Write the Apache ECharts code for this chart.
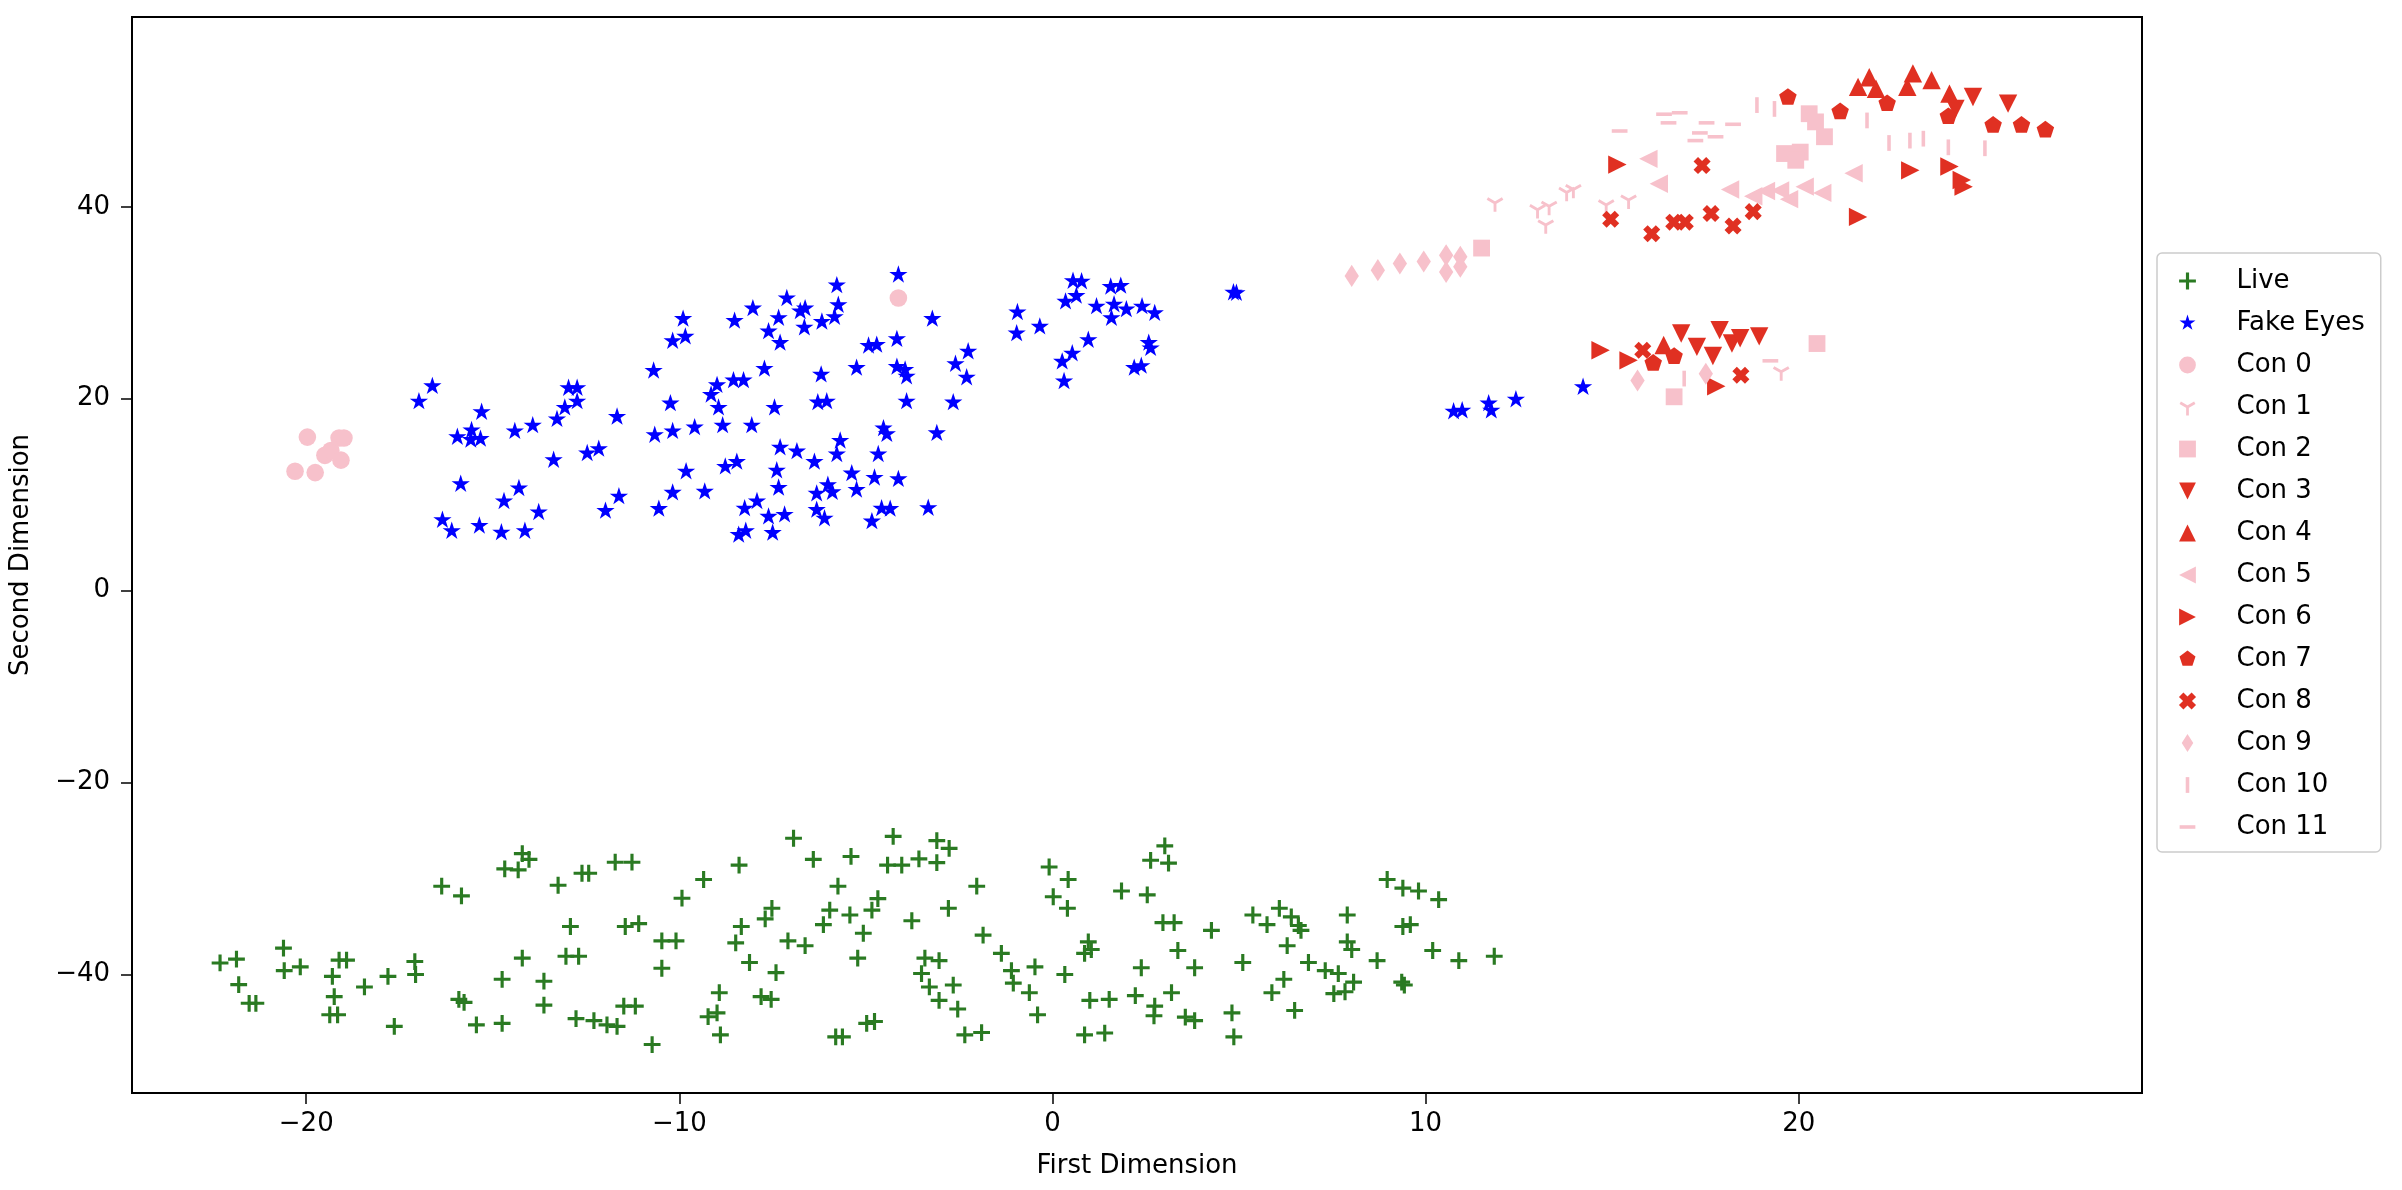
<!DOCTYPE html>
<html>
<head>
<meta charset="utf-8">
<script src="https://cdn.jsdelivr.net/npm/echarts@6/dist/echarts.min.js"></script>
<style>
html,body{margin:0;padding:0;background:#fff;}
#chart{width:2402px;height:1190px;}
</style>
</head>
<body>
<div id="chart"></div>
<script>
// ---------- data ----------
const xTicks = [-20, -10, 0, 10, 20];
const yTicks = [-40, -20, 0, 20, 40];
const seriesNames = ['Live','Fake Eyes','Con 0','Con 1','Con 2','Con 3','Con 4','Con 5','Con 6','Con 7','Con 8','Con 9','Con 10','Con 11'];

const live = [
[-22.31,-38.8],[-21.87,-38.4],[-21.81,-41.05],[-21.53,-43.0],[-21.35,-43.0],[-20.61,-37.26],[-20.59,-39.6],[-20.16,-39.2],[-19.30,-40.2],[-19.12,-38.5],[-18.92,-38.5],[-19.25,-42.3],[-19.37,-44.2],[-19.16,-44.2],[-18.44,-41.3],[-17.81,-40.2],[-17.64,-45.4],[-17.09,-38.65],[-17.07,-40.0],[-16.37,-30.8],[-15.84,-31.8],[-15.91,-42.6],[-15.77,-42.9],[-15.44,-45.25],[-14.75,-45.1],[-14.75,-40.5],[-14.68,-29.0],[-14.32,-29.1],[-14.21,-27.4],[-14.03,-28.0],[-14.21,-38.3],[-13.63,-40.7],[-13.63,-43.2],[-13.25,-30.7],[-12.92,-35.0],[-13.04,-38.1],[-12.70,-38.1],[-12.61,-29.45],[-12.43,-29.45],[-12.77,-44.6],[-12.29,-44.8],[-11.94,-45.25],[-11.67,-45.4],[-11.72,-28.3],[-11.27,-28.3],[-11.45,-35.0],[-11.09,-34.7],[-11.49,-43.3],[-11.18,-43.3],
[-6.94,-25.8],[-8.40,-28.6],[-9.35,-30.1],[-9.93,-32.05],[-6.41,-28.0],[-5.40,-27.7],[-4.27,-25.6],[-3.10,-26.05],[-2.77,-26.85],[-4.42,-28.6],[-4.04,-28.6],[-3.58,-27.95],[-3.10,-28.35],[-5.75,-30.8],[-2.03,-30.8],[-0.09,-28.8],[0.42,-30.1],[0.02,-31.9],[0.40,-33.1],[-10.47,-36.5],[-10.09,-36.5],[-10.47,-39.35],[-7.52,-33.1],[-7.70,-34.2],[-8.34,-35.0],[-8.49,-36.7],[-8.12,-38.75],[-7.41,-39.8],[-7.09,-36.5],[-6.63,-37.0],[-5.97,-33.3],[-6.14,-34.8],[-5.43,-33.8],[-4.84,-33.3],[-4.68,-32.1],[-5.07,-35.7],[-5.22,-38.3],[-3.77,-34.4],[-2.79,-33.1],[-1.86,-35.9],[-1.37,-37.8],[-1.10,-39.6],[-1.05,-40.9],[-0.47,-39.2],[-0.62,-41.9],[-0.40,-44.2],[0.33,-40.0],[-3.42,-38.3],[-3.04,-38.55],[-3.51,-39.9],[-3.30,-41.3],[-2.66,-41.1],[-3.04,-42.7],[-2.54,-43.6],[-2.35,-46.3],[-1.90,-46.05],[-8.93,-41.9],[-9.23,-44.4],[-8.99,-44.0],[-8.90,-46.3],[-7.81,-42.3],[-7.54,-42.6],[-10.73,-47.3],[-5.81,-46.5],[-5.63,-46.5],[-4.98,-45.1],[-4.77,-44.9],
[3.01,-26.6],[2.63,-28.1],[3.11,-28.4],[1.85,-31.3],[2.54,-31.7],[2.96,-34.6],[3.26,-34.6],[4.26,-35.4],[0.96,-36.6],[1.04,-37.4],[0.86,-37.8],[3.36,-37.5],[3.81,-39.3],[2.38,-39.3],[1.0,-42.7],[1.52,-42.6],[2.22,-42.2],[3.19,-41.9],[2.74,-43.3],[2.72,-44.3],[3.56,-44.45],[3.81,-44.8],[0.86,-46.3],[1.40,-46.1],[4.81,-44.0],[4.86,-46.5],[5.10,-38.75],[5.37,-33.8],[5.75,-34.8],[6.08,-33.1],[6.40,-34.0],[6.59,-34.9],[6.66,-35.4],[6.29,-37.0],[6.86,-38.75],[7.31,-39.6],[7.66,-39.9],[6.20,-40.5],[5.88,-41.9],[6.49,-43.75],[7.54,-42.0],[7.84,-41.8],[8.07,-40.8],[7.90,-33.8],[7.90,-36.6],[8.02,-37.4],[8.70,-38.55],[8.97,-30.1],[9.39,-31.0],[9.81,-31.3],[10.35,-32.2],[9.39,-35.0],[9.59,-34.8],[10.19,-37.5],[9.36,-40.8],[9.43,-41.1],[10.89,-38.55],[11.84,-38.1]
];

const fakeEyes = [
[-16.62,21.3],[-16.98,19.7],[-15.30,18.6],[-15.95,16.0],[-15.57,16.7],[-15.59,15.7],[-15.33,15.8],[-14.41,16.6],[-13.93,17.2],[-13.28,17.85],[-13.07,19.05],[-12.97,21.1],[-12.74,21.1],[-12.74,19.7],[-11.67,18.1],[-10.69,22.9],[-10.18,26.0],[-9.90,28.3],[-10.24,19.5],[-10.66,16.2],[-10.18,16.6],[-13.37,13.6],[-12.47,14.3],[-12.16,14.75],[-15.86,11.1],[-14.70,9.3],[-14.30,10.65],[-13.77,8.15],[-16.35,7.35],[-16.1,6.2],[-15.36,6.75],[-14.77,6.05],[-14.14,6.2],[-11.98,8.3],[-11.62,9.8],[-10.55,8.5],[-10.18,10.2],[-9.82,12.4],
[-9.84,26.45],[-8.52,28.1],[-8.03,29.4],[-7.61,27.0],[-7.34,28.4],[-7.12,30.45],[-7.30,25.8],[-6.76,29.1],[-6.63,29.4],[-6.65,27.4],[-6.18,28.0],[-5.84,28.5],[-5.74,29.75],[-5.78,31.8],[-4.13,32.9],[-3.22,28.3],[-4.93,25.5],[-4.71,25.6],[-4.17,26.2],[-5.25,23.2],[-4.17,23.3],[-3.95,23.0],[-3.91,22.3],[-3.91,19.7],[-2.6,23.6],[-2.66,19.6],[-3.10,16.4],[-6.20,22.5],[-7.72,23.1],[-6.29,19.6],[-6.05,19.7],[-7.45,19.05],[-8.55,21.9],[-8.28,21.9],[-8.99,21.4],[-9.15,20.4],[-8.95,19.05],[-8.84,17.2],[-8.06,17.2],[-9.59,17.0],[-4.53,16.9],[-4.44,16.3],[-5.69,15.6],[-5.78,14.2],[-7.30,14.9],[-6.85,14.5],[-6.38,13.4],[-4.67,14.2],[-8.77,12.9],[-8.46,13.4],[-9.32,10.3],[-7.39,12.5],[-7.34,10.7],[-5.38,12.2],[-5.25,10.5],[-4.77,11.75],[-4.13,11.6],[-6.02,11.0],[-5.90,10.25],[-6.32,10.1],[-4.58,8.55],[-4.35,8.5],[-3.33,8.6],[-4.84,7.2],[-6.32,8.4],[-6.11,7.5],[-8.25,8.55],[-7.92,9.3],[-7.61,7.7],[-7.18,7.9],[-8.41,5.8],[-8.22,6.2],[-7.50,6.0],
[-2.26,24.9],[-2.30,22.2],[-0.94,29.0],[-0.96,26.8],[-0.34,27.5],[0.55,32.25],[0.78,32.2],[0.64,30.7],[0.35,30.1],[1.56,31.65],[1.83,31.75],[1.18,29.6],[1.65,29.8],[1.58,28.4],[1.98,29.3],[2.40,29.6],[2.74,28.9],[0.96,26.1],[0.53,24.7],[0.26,23.85],[0.31,21.8],[2.58,25.8],[2.63,25.25],[2.19,23.2],[2.38,23.4],[4.93,31.0],[4.85,31.05],
[10.75,18.65],[10.98,18.75],[11.69,19.5],[11.76,18.75],[12.42,19.9],[14.22,21.2]
];

const con0 = [[-20.3,12.45],[-19.97,16.0],[-19.76,12.3],[-19.5,14.1],[-19.34,14.6],[-19.12,15.9],[-18.99,15.9],[-19.07,13.6],[-4.13,30.5]];
const con1 = [[11.86,40.4],[13.0,39.7],[13.31,40.05],[13.22,38.1],[13.78,41.5],[13.96,41.8],[14.84,40.2],[15.44,40.7],[19.53,22.8]];
const con2 = [[11.5,35.7],[20.28,49.7],[20.45,48.85],[20.69,47.3],[19.62,45.55],[20.04,45.7],[19.92,44.85],[16.66,20.2],[20.49,25.75]];
const con3 = [[24.67,51.45],[25.61,50.75],[24.2,50.2],[16.85,26.8],[17.27,25.4],[17.70,24.45],[17.88,27.15],[18.21,25.75],[18.43,26.3],[18.94,26.5]];
const con4 = [[21.59,52.5],[21.89,53.5],[22.07,52.3],[22.91,52.5],[23.06,53.9],[23.56,53.2],[24.04,51.8],[16.38,25.6]];
const con5 = [[15.97,45.0],[16.25,42.4],[18.16,41.8],[18.78,41.1],[19.12,41.65],[19.5,41.7],[19.74,40.8],[20.16,42.1],[20.63,41.45],[21.47,43.5]];
const con6 = [[15.14,44.4],[22.99,43.8],[24.04,44.2],[24.37,42.8],[24.42,42.1],[21.59,38.95],[14.69,25.05],[15.44,24.0],[17.79,21.3]];
const con7 = [[19.71,51.4],[21.11,49.9],[22.37,50.75],[24.01,49.4],[25.21,48.5],[25.97,48.5],[26.61,48.0],[16.10,23.7],[16.66,24.4]];
const con8 = [[17.41,44.3],[14.96,38.7],[16.06,37.2],[16.65,38.4],[16.96,38.4],[17.65,39.3],[18.24,38.0],[18.78,39.5],[15.82,25.05],[18.45,22.45]];
const con9 = [[8.02,32.8],[8.72,33.4],[9.31,34.1],[9.95,34.3],[10.55,34.95],[10.55,33.2],[10.93,34.8],[10.93,33.75],[15.68,21.9],[17.51,22.6]];
const con10 = [[18.88,50.6],[19.35,50.2],[21.83,49.0],[22.42,46.65],[22.98,46.9],[23.34,47.1],[24.01,46.2],[24.99,46.1],[16.93,22.1]];
const con11 = [[15.2,47.9],[16.39,49.65],[16.81,49.8],[16.51,48.75],[17.53,48.75],[18.24,48.6],[17.35,47.7],[17.77,47.3],[17.23,46.9],[19.24,23.95]];

const seriesData = [live, fakeEyes, con0, con1, con2, con3, con4, con5, con6, con7, con8, con9, con10, con11];

// ---------- styles ----------
const GREEN = '#2a7a22', BLUE = '#0000ff', PINK = '#f7c1cb', RED = '#e03022';
const PAD = 'M-1,-1 L-1,-1 M1,1 L1,1 ';
const SHAPES = {
  plus: 'M-0.15,-0.8 L0.15,-0.8 L0.15,-0.15 L0.8,-0.15 L0.8,0.15 L0.15,0.15 L0.15,0.8 L-0.15,0.8 L-0.15,0.15 L-0.8,0.15 L-0.8,-0.15 L-0.15,-0.15 Z',
  star: 'M0,-0.8 L0.18,-0.247 L0.761,-0.247 L0.29,0.094 L0.47,0.647 L0,0.306 L-0.47,0.647 L-0.29,0.094 L-0.761,-0.247 L-0.18,-0.247 Z',
  circle: 'M0.8,0 A0.8,0.8 0 1,1 -0.8,0 A0.8,0.8 0 1,1 0.8,0 Z',
  tri1: 'M-0.13,0 L0.13,0 L0.13,0.8 L-0.13,0.8 Z M-0.065,0.113 L-0.758,-0.287 L-0.628,-0.513 L0.065,-0.113 Z M-0.065,-0.113 L0.628,-0.513 L0.758,-0.287 L0.065,0.113 Z',
  square: 'M-0.8,-0.8 L0.8,-0.8 L0.8,0.8 L-0.8,0.8 Z',
  down: 'M-0.8,-0.8 L0.8,-0.8 L0,0.8 Z',
  up: 'M0,-0.8 L0.8,0.8 L-0.8,0.8 Z',
  left: 'M0.8,-0.8 L0.8,0.8 L-0.8,0 Z',
  right: 'M-0.8,-0.8 L-0.8,0.8 L0.8,0 Z',
  pent: 'M0,-0.8 L0.761,-0.247 L0.47,0.647 L-0.47,0.647 L-0.761,-0.247 Z',
  xfill: 'M0.389,-0.813 L0.813,-0.389 L0.424,0 L0.813,0.389 L0.389,0.813 L0,0.424 L-0.389,0.813 L-0.813,0.389 L-0.424,0 L-0.813,-0.389 L-0.389,-0.813 L0,-0.424 Z',
  thind: 'M0,-0.85 L0.55,0 L0,0.85 L-0.55,0 Z',
  vline: 'M-0.17,-0.75 L0.17,-0.75 L0.17,0.75 L-0.17,0.75 Z',
  hline: 'M-0.75,-0.17 L0.75,-0.17 L0.75,0.17 L-0.75,0.17 Z'
};
const styleTable = [
  ['plus', GREEN, 21], ['star', BLUE, 24], ['circle', PINK, 22], ['tri1', PINK, 22],
  ['square', PINK, 21], ['down', RED, 23], ['up', RED, 23], ['left', PINK, 23],
  ['right', RED, 23], ['pent', RED, 23], ['xfill', RED, 21], ['thind', PINK, 26],
  ['vline', PINK, 21], ['hline', PINK, 21]
];
const sym = k => 'path://' + PAD + SHAPES[k];

const FONT = 'DejaVu Sans';
const fmt = v => (v < 0 ? '\u2212' + Math.abs(v) : String(v));

const series = seriesNames.map((name, i) => ({
  name: name,
  type: 'scatter',
  data: seriesData[i],
  symbol: sym(styleTable[i][0]),
  symbolSize: styleTable[i][2],
  itemStyle: { color: styleTable[i][1], opacity: 1 },
  emphasis: { disabled: true },
  z: 2 + i
}));

const chart = echarts.init(document.getElementById('chart'), null, { renderer: 'canvas' });
chart.setOption({
  animation: false,
  backgroundColor: '#ffffff',
  textStyle: { fontFamily: FONT },
  grid: { left: 130, right: 260, top: 17, bottom: 97, show: true, borderColor: '#000', borderWidth: 2, backgroundColor: 'transparent' },
  xAxis: {
    type: 'value', min: -24.67, max: 29.2,
    name: 'First Dimension', nameLocation: 'middle', nameGap: 60,
    nameTextStyle: { fontSize: 26, color: '#000', fontFamily: FONT },
    axisLine: { show: true, onZero: false, lineStyle: { color: '#000', width: 2 } },
    axisTick: { show: true, inside: false, length: 11, customValues: xTicks, lineStyle: { color: '#000', width: 1.5 } },
    axisLabel: { customValues: xTicks, formatter: fmt, fontSize: 26, color: '#000', margin: 18, fontFamily: FONT, showMinLabel: true, showMaxLabel: true },
    splitLine: { show: false }
  },
  yAxis: {
    type: 'value', min: -52.35, max: 59.78,
    name: 'Second Dimension', nameLocation: 'middle', nameGap: 98, nameRotate: 90,
    nameTextStyle: { fontSize: 26, color: '#000', fontFamily: FONT },
    axisLine: { show: true, onZero: false, lineStyle: { color: '#000', width: 2 } },
    axisTick: { show: true, inside: false, length: 11, customValues: yTicks, lineStyle: { color: '#000', width: 1.5 } },
    axisLabel: { customValues: yTicks, formatter: fmt, fontSize: 26, color: '#000', margin: 22, fontFamily: FONT },
    splitLine: { show: false }
  },
  legend: {
    orient: 'vertical', left: 2157, top: 253,
    padding: [15, 16, 12, 20],
    itemWidth: 40, itemHeight: 21, itemGap: 16,
    backgroundColor: 'rgba(255,255,255,0.8)',
    borderColor: '#cccccc', borderWidth: 1.5, borderRadius: 5,
    textStyle: { fontSize: 26, color: '#000', fontFamily: FONT, padding: [0, 0, 0, 24] },
    data: seriesNames.map((n, i) => ({ name: n, icon: sym(styleTable[i][0]) })),
    selectedMode: false
  },
  series: series
});
</script>
</body>
</html>
